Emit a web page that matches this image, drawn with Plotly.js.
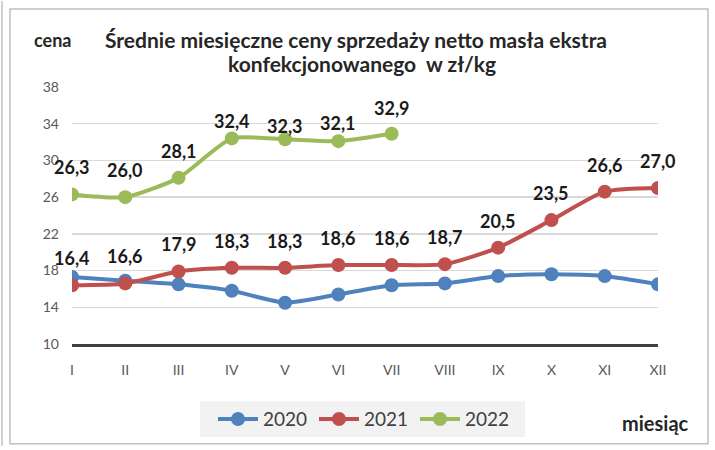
<!DOCTYPE html>
<html>
<head>
<meta charset="utf-8">
<script src="https://cdn.plot.ly/plotly-3.0.1.min.js"></script>
<style>
html,body{margin:0;padding:0;background:#fff;}
#chart{width:715px;height:450px;}
</style>
</head>
<body>
<div id="chart"></div>
<script>
const months = ['I','II','III','IV','V','VI','VII','VIII','IX','X','XI','XII'];
const months2022 = ['I','II','III','IV','V','VI','VII'];
const v2020 = [17.3, 16.9, 16.5, 15.8, 14.5, 15.4, 16.4, 16.6, 17.4, 17.6, 17.4, 16.5];
const v2021 = [16.4, 16.6, 17.9, 18.3, 18.3, 18.6, 18.6, 18.7, 20.5, 23.5, 26.6, 27.0];
const v2022 = [26.3, 26.0, 28.1, 32.4, 32.3, 32.1, 32.9];
const seriesNames = ['2020', '2021', '2022'];
const colors = ['#4f81bd', '#c0504d', '#9bbb59'];

const FONT = 'Lato, "Open Sans", sans-serif';
const fmt = v => v.toFixed(1).replace('.', ',');

function trace(x, y, name, color) {
  return {
    type: 'scatter', mode: 'lines+markers', x: x, y: y, name: name,
    line: {color: color, width: 4, shape: 'spline', smoothing: 0.6},
    marker: {color: color, size: 14},
    hoverinfo: 'skip'
  };
}

const data = [
  trace(months, v2020, seriesNames[0], colors[0]),
  trace(months, v2021, seriesNames[1], colors[1]),
  trace(months2022, v2022, seriesNames[2], colors[2])
];

// label offsets (px above the point); top-row labels in the original sit closer
const shift2021 = [27,27,27,27,27,27,27,27,27,27,27,27];
const shift2022 = [27,27,27,17,13,18,26];

const annotations = [];
function addLabels(x, y, shifts) {
  y.forEach((v, i) => annotations.push({
    x: x[i], y: v, xref: 'x', yref: 'y', text: '<b>' + fmt(v) + '</b>', showarrow: false,
    xanchor: 'center', yanchor: 'middle',
    yshift: shifts[i], font: {family: FONT, size: 18, color: '#1a1a1a'}
  }));
}
addLabels(months, v2021, shift2021);
addLabels(months2022, v2022, shift2022);

const px = v => (v - 72) / 586;
const py = v => (347 - v) / 260;

function paperText(text, x, y, size) {
  annotations.push({xref:'paper', yref:'paper', x:px(x), y:py(y), text:text,
    xanchor:'center', yanchor:'middle', showarrow:false,
    font:{family:FONT, size:size, color:'#262626'}});
}
paperText('<b>cena</b>', 52, 39, 18);
paperText('<b>Średnie miesięczne ceny sprzedaży netto masła ekstra</b>', 356, 39, 21);
paperText('<b>konfekcjonowanego  w zł/kg</b>', 362, 63, 21);
paperText('<b>miesiąc</b>', 655, 427, 20);

const shapes = [
  {type:'rect', xref:'paper', yref:'paper', x0:px(10), x1:px(708), y0:py(448), y1:py(8),
   line:{color:'#bfbfbf', width:1.5}, fillcolor:'rgba(0,0,0,0)', layer:'below'},
  {type:'line', xref:'paper', yref:'paper', x0:px(2), x1:px(2), y0:py(450), y1:py(0),
   line:{color:'#bfbfbf', width:1.5}},
  {type:'rect', xref:'paper', yref:'paper', x0:px(200), x1:px(525), y0:py(441), y1:py(405),
   line:{width:0}, fillcolor:'#f2f2f2', layer:'below'}
];

const layout = {
  width: 715, height: 450,
  margin: {l:72, r:57, t:87, b:103},
  paper_bgcolor: '#ffffff', plot_bgcolor: '#ffffff',
  font: {family: FONT, color: '#595959', size: 14},
  showlegend: true,
  legend: {orientation:'h', x:px(213), y:py(423), xanchor:'left', yanchor:'middle',
    bgcolor:'rgba(0,0,0,0)', font:{family:FONT, size:19, color:'#404040'},
    itemwidth: 40, entrywidth: 46, entrywidthmode:'pixels', borderwidth:0},
  xaxis: {type:'category', categoryarray: months, categoryorder:'array', range:[0, 11],
    showgrid:false, zeroline:false, showline:true, linecolor:'#404040', linewidth:3,
    ticks:'', ticklabelstandoff: 11, tickfont:{family:FONT, size:14, color:'#595959'}, fixedrange:true},
  yaxis: {range:[10, 38], tick0:10, dtick:4, showgrid:true, gridcolor:'#d9d9d9', gridwidth:1.5,
    zeroline:false, showline:false, ticks:'', ticklabelstandoff: 12,
    tickfont:{family:FONT, size:14, color:'#595959'}, fixedrange:true},
  annotations: annotations,
  shapes: shapes
};

Plotly.newPlot('chart', data, layout, {displayModeBar:false, staticPlot:true});
</script>
</body>
</html>
